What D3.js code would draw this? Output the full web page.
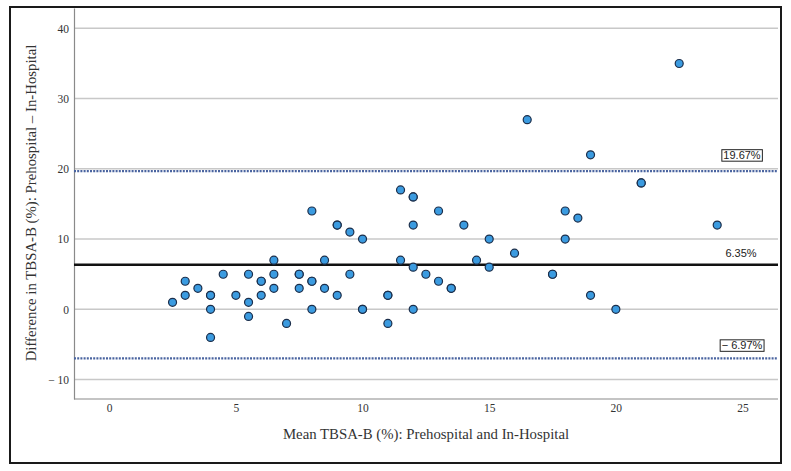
<!DOCTYPE html>
<html>
<head>
<meta charset="utf-8">
<script src="https://cdn.jsdelivr.net/npm/d3@7/dist/d3.min.js"></script>
<style>
  body { margin: 0; background: #fff; }
  svg { display: block; }
  .tick text { font-family: "Liberation Serif", serif; font-size: 11.5px; fill: #333; }
  .title { font-family: "Liberation Serif", serif; font-size: 14.8px; fill: #333; }
  .pct { font-family: "Liberation Sans", Arial, sans-serif; font-size: 11px; fill: #222; }
  .grid line { stroke: #c8c8c8; stroke-width: 1.5px; }
  .dot { fill: #3b9be0; stroke: #1c2e4a; stroke-width: 1.2px; }
</style>
</head>
<body>
<svg width="791" height="471"></svg>
<script>
// mean of the two measurements (x) and their difference (y); repeated pairs are overlapping cases
var meanTbsa = [2.5, 3, 3, 3.5, 4, 4, 4, 4, 4.5, 5, 5.5, 5.5, 5.5, 6, 6, 6, 6.5, 6.5, 6.5,
  7, 7.5, 7.5, 7.5, 8, 8, 8, 8, 8.5, 8.5, 9, 9, 9, 9.5, 9.5, 10, 10, 10, 11, 11, 11,
  11.5, 11.5, 12, 12, 12, 12, 12, 12.5, 13, 13, 13.5, 13.5, 14, 14.5, 15, 15, 16, 16.5,
  17.5, 17.5, 18, 18, 18.5, 19, 19, 20, 21, 21, 22.5, 24];
var diffTbsa = [1, 4, 2, 3, 2, 2, 0, -4, 5, 2, 5, 1, -1, 4, 4, 2, 7, 5, 3,
  -2, 5, 5, 3, 14, 4, 4, 0, 7, 3, 12, 12, 2, 11, 5, 10, 0, 0, 2, 2, -2,
  17, 7, 16, 16, 12, 6, 0, 5, 14, 4, 3, 3, 12, 7, 10, 6, 8, 27,
  5, 5, 14, 10, 13, 22, 2, 0, 18, 18, 35, 12];

var xTicks = [0, 5, 10, 15, 20, 25];
var yTicks = [-10, 0, 10, 20, 30, 40];

var meanDiff = 6.35;
var upperLimit = 19.67;
var lowerLimit = -6.97;
var limitLabels = ["19.67%", "6.35%", "\u2212 6.97%"];

var svg = d3.select("svg");
var plot = { left: 74, right: 778, top: 8, bottom: 399 };

var x = d3.scaleLinear().domain([-1.39, 26.4]).range([plot.left, plot.right]);
var y = d3.scaleLinear().domain([-12.76, 42.9]).range([plot.bottom, plot.top]);

// outer frame
svg.append("rect")
  .attr("x", 10).attr("y", 7).attr("width", 771).attr("height", 456)
  .attr("fill", "none").attr("stroke", "#1a1a1a").attr("stroke-width", 2);

// horizontal grid
svg.append("g").attr("class", "grid")
  .selectAll("line").data(yTicks).join("line")
  .attr("x1", plot.left).attr("x2", plot.right)
  .attr("y1", function(d) { return y(d); })
  .attr("y2", function(d) { return y(d); });

// axes
var yAxis = svg.append("g")
  .attr("transform", "translate(" + plot.left + ",0)")
  .call(d3.axisLeft(y).tickValues(yTicks).tickSize(0).tickPadding(5)
    .tickFormat(function(d) { return d < 0 ? "\u2212 " + Math.abs(d) : d; }));
var xAxis = svg.append("g")
  .attr("transform", "translate(0," + plot.bottom + ")")
  .call(d3.axisBottom(x).tickValues(xTicks).tickSize(0).tickPadding(5));
[xAxis, yAxis].forEach(function(a) {
  a.select(".domain").attr("stroke", "#8a8a8a").attr("stroke-width", 1.2);
});
xAxis.select(".domain").attr("d", "M" + plot.left + ",0H" + plot.right);

// limits of agreement and mean difference
[upperLimit, lowerLimit].forEach(function(v) {
  svg.append("line")
    .attr("x1", plot.left).attr("x2", plot.right)
    .attr("y1", y(v)).attr("y2", y(v))
    .attr("stroke", "#4a64a0").attr("stroke-width", 2.2)
    .attr("stroke-dasharray", "2 1.2");
});
svg.append("line")
  .attr("x1", plot.left).attr("x2", plot.right)
  .attr("y1", y(meanDiff)).attr("y2", y(meanDiff))
  .attr("stroke", "#111").attr("stroke-width", 2.6);

// points
svg.append("g").selectAll("circle").data(meanTbsa).join("circle")
  .attr("class", "dot")
  .attr("cx", function(d) { return x(d); })
  .attr("cy", function(d, i) { return y(diffTbsa[i]); })
  .attr("r", 4);

// line labels
function pctLabel(v, txt, cx, dy, boxed) {
  var t = svg.append("text").attr("class", "pct")
    .attr("x", cx).attr("y", y(v) + dy)
    .attr("text-anchor", "middle").text(txt);
  if (boxed) {
    var b = t.node().getBBox();
    svg.insert("rect", "text.pct")
      .attr("x", b.x - 1.5).attr("y", b.y + 0.5)
      .attr("width", b.width + 3).attr("height", b.height - 0.5)
      .attr("fill", "#fff").attr("stroke", "#222").attr("stroke-width", 1);
  }
}
pctLabel(upperLimit, limitLabels[0], 742, -12, true);
pctLabel(meanDiff, limitLabels[1], 741, -8, false);
pctLabel(lowerLimit, limitLabels[2], 742, -9, true);

// axis titles
svg.append("text").attr("class", "title")
  .attr("x", 426).attr("y", 439).attr("text-anchor", "middle")
  .text("Mean TBSA-B (%): Prehospital and In-Hospital");
svg.append("text").attr("class", "title")
  .attr("transform", "translate(36,203) rotate(-90)")
  .attr("text-anchor", "middle")
  .text("Difference in TBSA-B (%): Prehospital \u2013 In-Hospital");
</script>
</body>
</html>
